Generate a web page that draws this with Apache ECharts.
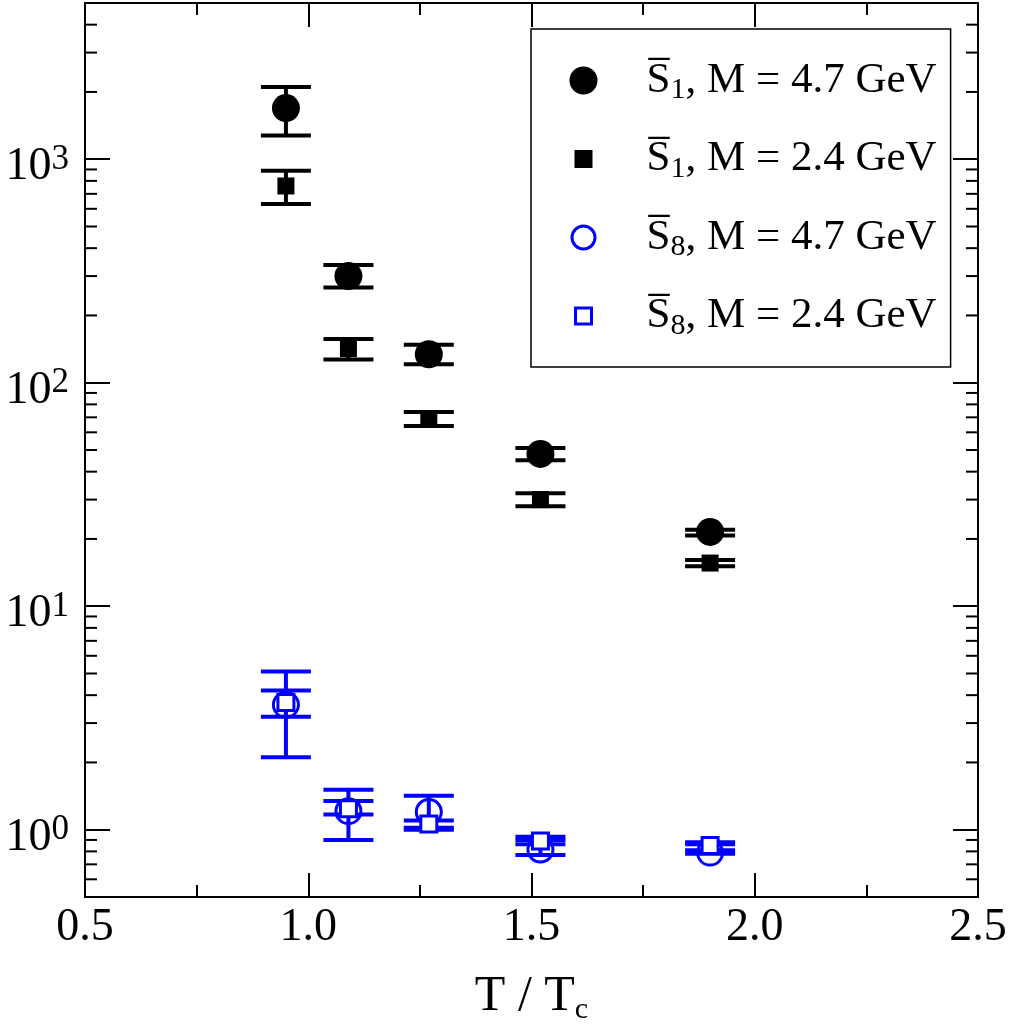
<!DOCTYPE html>
<html>
<head>
<meta charset="utf-8">
<script src="https://cdn.jsdelivr.net/npm/echarts@6/dist/echarts.min.js"></script>
<style>
html, body { margin: 0; padding: 0; background: #fff; }
#chart { width: 1009px; height: 1036px; }
</style>
</head>
<body>
<div id="chart"></div>
<script>
// temperatures T/Tc
var temps = [0.95, 1.09, 1.27, 1.52, 1.90];

// S1 bar, M = 4.7 GeV
var s1Heavy   = [1694, 300, 134, 48, 21.5];
var s1HeavyLo = [1276, 267, 121, 45, 20.7];
var s1HeavyHi = [2103, 336, 148, 51, 22.0];
// S1 bar, M = 2.4 GeV
var s1Light   = [759, 142, 69, 30, 15.6];
var s1LightLo = [631, 127, 64, 28, 15.1];
var s1LightHi = [887, 157, 74, 32, 16.1];
// S8 bar, M = 4.7 GeV
var s8Heavy   = [3.62, 1.21, 1.20, 0.815, 0.79];
var s8HeavyLo = [2.11, 0.90, 1.00, 0.77, 0.78];
var s8HeavyHi = [5.11, 1.51, 1.42, 0.90, 0.86];
// S8 bar, M = 2.4 GeV
var s8Light   = [3.71, 1.24, 1.06, 0.89, 0.85];
var s8LightLo = [3.20, 1.17, 1.02, 0.86, 0.81];
var s8LightHi = [4.20, 1.345, 1.10, 0.93, 0.88];

var legendLabels = {
    s1h: ['1', '4.7'],
    s1l: ['1', '2.4'],
    s8h: ['8', '4.7'],
    s8l: ['8', '2.4']
};

var xMin = 0.5, xMax = 2.5;
var yMin = 0.5, yMax = 5000;

// minor ticks of the log axis (2..9 per decade)
var minorY = [];
for (var e = -1; e <= 3; e++) {
    for (var m = 2; m <= 9; m++) {
        var v = m * Math.pow(10, e);
        if (v > yMin && v < yMax) minorY.push([xMin, v]);
    }
}

function points(vals) {
    return temps.map(function (t, i) { return [t, vals[i]]; });
}
function bars(lo, hi) {
    return temps.map(function (t, i) { return [t, lo[i], hi[i]]; });
}

function errorBar(params, api) {
    var x = api.value(0);
    var lo = api.coord([x, api.value(1)]);
    var hi = api.coord([x, api.value(2)]);
    var hw = 25;
    var st = { stroke: api.visual('color'), lineWidth: 4 };
    return {
        type: 'group',
        children: [
            { type: 'line', shape: { x1: lo[0], y1: lo[1], x2: hi[0], y2: hi[1] }, style: st },
            { type: 'line', shape: { x1: lo[0] - hw, y1: lo[1], x2: lo[0] + hw, y2: lo[1] }, style: st },
            { type: 'line', shape: { x1: hi[0] - hw, y1: hi[1], x2: hi[0] + hw, y2: hi[1] }, style: st }
        ]
    };
}

function minorTick(params, api) {
    var l = api.coord([xMin, api.value(1)]);
    var r = api.coord([xMax, api.value(1)]);
    var st = { stroke: '#000', lineWidth: 2 };
    return {
        type: 'group',
        children: [
            { type: 'line', shape: { x1: l[0], y1: l[1], x2: l[0] + 12, y2: l[1] }, style: st },
            { type: 'line', shape: { x1: r[0], y1: r[1], x2: r[0] - 12, y2: r[1] }, style: st }
        ]
    };
}

function errSeries(name, lo, hi, color) {
    return {
        name: name, type: 'custom', renderItem: errorBar,
        data: bars(lo, hi), encode: { x: 0, y: [1, 2] },
        itemStyle: { color: color }, silent: true, z: 2
    };
}

var font = 'Liberation Serif';

var xAxisBase = {
    type: 'value', min: xMin, max: xMax, interval: 0.5,
    axisLine: { onZero: false, lineStyle: { color: '#000', width: 2 } },
    axisTick: { inside: true, length: 24, lineStyle: { color: '#000', width: 2 } },
    minorTick: { show: true, splitNumber: 2, length: 12, lineStyle: { color: '#000', width: 2 } },
    splitLine: { show: false }
};

var yAxisBase = {
    type: 'log', logBase: 10, min: yMin, max: yMax,
    axisLine: { onZero: false, lineStyle: { color: '#000', width: 2 } },
    axisTick: { inside: true, length: 25, lineStyle: { color: '#000', width: 2 } },
    splitLine: { show: false }
};

var chart = echarts.init(document.getElementById('chart'));

chart.setOption({
    animation: false,
    backgroundColor: '#fff',
    textStyle: { fontFamily: font },
    grid: { left: 85, right: 31, top: 3, bottom: 139, containLabel: false, outerBoundsMode: 'none' },
    xAxis: [
        Object.assign({}, xAxisBase, {
            position: 'bottom',
            axisLabel: {
                margin: 8, fontSize: 46, color: '#000', fontFamily: font,
                formatter: function (v) { return v.toFixed(1); }
            },
            name: '{t|T / T}{s|c}',
            nameLocation: 'middle',
            nameGap: 72,
            nameTextStyle: {
                rich: {
                    t: { fontSize: 50, fontFamily: font, color: '#000', lineHeight: 56 },
                    s: { fontSize: 30, fontFamily: font, color: '#000', lineHeight: 14, verticalAlign: 'bottom' }
                }
            }
        }),
        Object.assign({}, xAxisBase, { position: 'top', axisLabel: { show: false } })
    ],
    yAxis: [
        Object.assign({}, yAxisBase, {
            position: 'left',
            axisLabel: {
                margin: 16, color: '#000', padding: [16, 0, 0, 0],
                formatter: function (v) {
                    var lg = Math.log(v) / Math.LN10;
                    var ex = Math.round(lg);
                    if (Math.abs(lg - ex) > 1e-6) return '';
                    return '{b|10}{sup|' + ex + '}';
                },
                rich: {
                    b: { fontSize: 46, fontFamily: font, color: '#000', lineHeight: 50 },
                    sup: { fontSize: 35, fontFamily: font, color: '#000', lineHeight: 20, verticalAlign: 'top' }
                }
            }
        }),
        Object.assign({}, yAxisBase, { position: 'right', axisLabel: { show: false } })
    ],
    legend: {
        orient: 'vertical',
        left: 531, top: 29,
        padding: [30, 14, 26, 37],
        itemGap: 32,
        itemWidth: 28, itemHeight: 28,
        borderColor: '#000', borderWidth: 1.5,
        backgroundColor: '#fff',
        selectedMode: false,
        data: [
            { name: 's1h', icon: 'circle' },
            { name: 's1l', icon: 'path://M0,0M28,28M5,5h18v18h-18z' },
            {
                name: 's8h', icon: 'path://M0,0M28,28M2.5,14a11.5,11.5 0 1,0 23,0a11.5,11.5 0 1,0 -23,0z',
                itemStyle: { color: 'rgba(255,255,255,0)', borderColor: '#0000ff', borderWidth: 3 }
            },
            {
                name: 's8l', icon: 'path://M0,0M28,28M6,6h16v16h-16z',
                itemStyle: { color: '#fff', borderColor: '#0000ff', borderWidth: 3 }
            }
        ],
        formatter: function (name) {
            var l = legendLabels[name];
            return '{o|S\u0305}{sub|' + l[0] + '}{t|, M = ' + l[1] + ' GeV}';
        },
        textStyle: {
            rich: {
                o: { fontSize: 43, fontFamily: font, color: '#000', lineHeight: 50, padding: [0, 0, 0, 44] },
                sub: { fontSize: 30, fontFamily: font, color: '#000', lineHeight: 16, verticalAlign: 'bottom' },
                t: { fontSize: 43, fontFamily: font, color: '#000', lineHeight: 50 }
            }
        }
    },
    series: [
        {
            name: 'minor', type: 'custom', renderItem: minorTick, data: minorY,
            encode: { x: 0, y: 1 }, silent: true, z: 1
        },
        errSeries('e1h', s1HeavyLo, s1HeavyHi, '#000'),
        errSeries('e1l', s1LightLo, s1LightHi, '#000'),
        errSeries('e8h', s8HeavyLo, s8HeavyHi, '#0000ff'),
        errSeries('e8l', s8LightLo, s8LightHi, '#0000ff'),
        {
            name: 's1h', type: 'scatter', data: points(s1Heavy),
            symbol: 'circle', symbolSize: 28, itemStyle: { color: '#000', opacity: 1 }, z: 3
        },
        {
            name: 's1l', type: 'scatter', data: points(s1Light),
            symbol: 'rect', symbolSize: 17, itemStyle: { color: '#000', opacity: 1 }, z: 3
        },
        {
            name: 's8h', type: 'scatter', data: points(s8Heavy),
            symbol: 'circle', symbolSize: 25,
            itemStyle: { color: 'rgba(255,255,255,0)', borderColor: '#0000ff', borderWidth: 3, opacity: 1 }, z: 3
        },
        {
            name: 's8l', type: 'scatter', data: points(s8Light),
            symbol: 'rect', symbolSize: 16,
            itemStyle: { color: '#fff', borderColor: '#0000ff', borderWidth: 3, opacity: 1 }, z: 4
        }
    ]
});
</script>
</body>
</html>
